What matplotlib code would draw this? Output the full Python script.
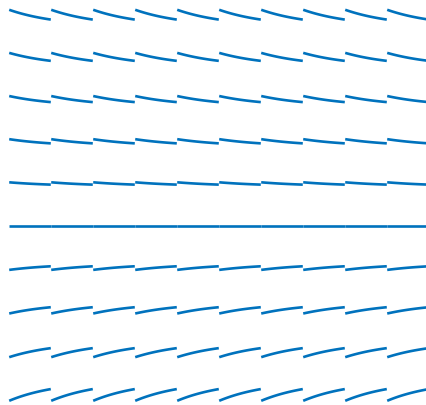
import numpy as np
import matplotlib
matplotlib.use("Agg")
import matplotlib.pyplot as plt

# Grid of sample points (column centres and row levels)
col_centers = np.arange(10)
row_levels = np.array([5, 4, 3, 2, 1, 0, -1, -2, -3, -4])

# Total vertical change of the solution segment across one cell, per row
row_change = np.array([-0.233, -0.19, -0.145, -0.10, -0.055,
                       0.0, 0.086, 0.15, 0.215, 0.279])

# Relaxation rate of each short solution arc (per cell width)
decay = 0.85
seg_len = 0.99

line_color = "#0072BD"

fig = plt.figure(figsize=(4.27, 4.05), dpi=100)
ax = fig.add_axes([0, 0, 1, 1])

u = np.linspace(0.0, 1.0, 60)
shape = (1 - np.exp(-decay * u)) / (1 - np.exp(-decay))
mid = (1 - np.exp(-decay * 0.5)) / (1 - np.exp(-decay))

for y0, dy in zip(row_levels, row_change):
    for x0 in col_centers:
        xs = x0 + (u - 0.5) * seg_len
        ys = y0 + dy * (shape - mid)
        ax.plot(xs, ys, color=line_color, lw=1.9, solid_capstyle="butt")

ax.set_xlim(-30 / 42, 397 / 42)
ax.set_ylim(5.374 - 405 / 42, 5.374)
ax.axis("off")

fig.savefig("out.png", dpi=100)
